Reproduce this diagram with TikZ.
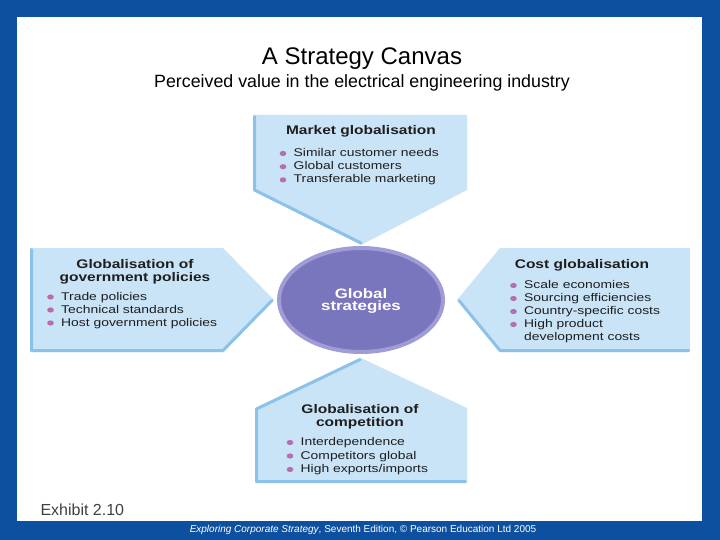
\documentclass[tikz,border=0pt]{standalone}
\usepackage{fontspec}
\setmainfont{Liberation Sans}
\newfontfamily\widefont[FakeStretch=1.24]{Liberation Sans}
\usetikzlibrary{positioning}

\definecolor{frameblue}{RGB}{13,80,160}
\definecolor{panelblue}{RGB}{202,228,247}
\definecolor{bevelblue}{RGB}{140,194,234}
\definecolor{globe}{RGB}{122,118,190}
\definecolor{globerim}{RGB}{160,156,214}
\definecolor{dotpink}{RGB}{182,110,172}
\definecolor{inkgray}{RGB}{30,30,30}

\tikzset{
  panel/.style={fill=panelblue},
  bevel/.style={draw=bevelblue, line width=3pt, line cap=round, line join=round},
  head/.style={font=\widefont\bfseries\fontsize{12.5}{12.5}\selectfont, align=center, text=inkgray, inner sep=0pt},
  item/.style={font=\widefont\fontsize{11.2}{12}\selectfont, anchor=base west, text=inkgray, inner sep=0pt},
  dot/.style={fill=dotpink},
}

\begin{document}
\begin{tikzpicture}[x=1pt,y=-1pt]
\useasboundingbox (0,0) rectangle (720,540);
% frame
\fill[frameblue] (0,0) rectangle (720,540);
\fill[white] (17,17) rectangle (702,521);

% titles
\node[font=\fontsize{24}{28}\selectfont] (title) at (362,59) {A Strategy Canvas};
\node[font=\fontsize{17.8}{21}\selectfont] (subtitle) at (362,83) {Perceived value in the electrical engineering industry};

% panels
\fill[panel] (253,115) -- (467,115) -- (467,190) -- (361,245) -- (253,190) -- cycle;
\draw[bevel] (254.5,116.5) -- (254.5,190) -- (361,243);
\fill[panel] (30,248) -- (223,248) -- (274,300) -- (223,352) -- (30,352) -- cycle;
\draw[bevel] (31.5,249.5) -- (31.5,350.5) -- (223,350.5) -- (272,300.5);
\fill[panel] (500,248) -- (690,248) -- (690,352) -- (500,352) -- (457,300) -- cycle;
\draw[bevel] (459,300.5) -- (500,350.5) -- (688.5,350.5);
\fill[panel] (361,358) -- (467,408) -- (467,483) -- (255,483) -- (255,408) -- cycle;
\draw[bevel] (360,359.5) -- (256.5,409) -- (256.5,481.5) -- (465.5,481.5);

% centre
\draw[globerim, line width=4pt, fill=globe] (361,300) ellipse (82 and 52);
\node[head, text=white, font=\widefont\bfseries\fontsize{13.6}{12.5}\selectfont] (core) at (361,301) {Global\\strategies};

% market globalisation
\node[head] (mkthead) at (361,131) {Market globalisation};
\foreach \txt [count=\i] in {Similar customer needs, Global customers, Transferable marketing} {
  \node[item] (mkt\i) at (293.5,156.5+13.2*\i-13.2) {\txt};
  \fill[dot] ([xshift=-10.5pt,yshift=3pt]mkt\i.base west) ellipse (3.3 and 2.6);
}

% government policies
\node[head] (govhead) at (135,272) {Globalisation of\\government policies};
\foreach \txt [count=\i] in {Trade policies, Technical standards, Host government policies} {
  \node[item] (gov\i) at (61,300+13*\i-13) {\txt};
  \fill[dot] ([xshift=-10.5pt,yshift=3pt]gov\i.base west) ellipse (3.3 and 2.6);
}

% cost globalisation
\node[head] (costhead) at (582,265.5) {Cost globalisation};
\foreach \txt [count=\i] in {Scale economies, Sourcing efficiencies, Country-specific costs, High product} {
  \node[item] (cost\i) at (524,288.5+13*\i-13) {\txt};
  \fill[dot] ([xshift=-10.5pt,yshift=3pt]cost\i.base west) ellipse (3.3 and 2.6);
}
\node[item] (cost5) at (524,340) {development costs};

% competition
\node[head] (comphead) at (360,417) {Globalisation of\\competition};
\foreach \txt [count=\i] in {Interdependence, Competitors global, High exports/imports} {
  \node[item] (comp\i) at (300.5,445.5+13.5*\i-13.5) {\txt};
  \fill[dot] ([xshift=-10.5pt,yshift=3pt]comp\i.base west) ellipse (3.3 and 2.6);
}

% captions
\node[anchor=west, font=\fontsize{16}{19}\selectfont, text=inkgray!85] (exhibit) at (37,510) {Exhibit 2.10};
\node[text=white, font=\fontsize{10}{11}\selectfont] (footer) at (363,530) {\textit{Exploring Corporate Strategy}, Seventh Edition, © Pearson Education Ltd 2005};
\end{tikzpicture}
\end{document}
